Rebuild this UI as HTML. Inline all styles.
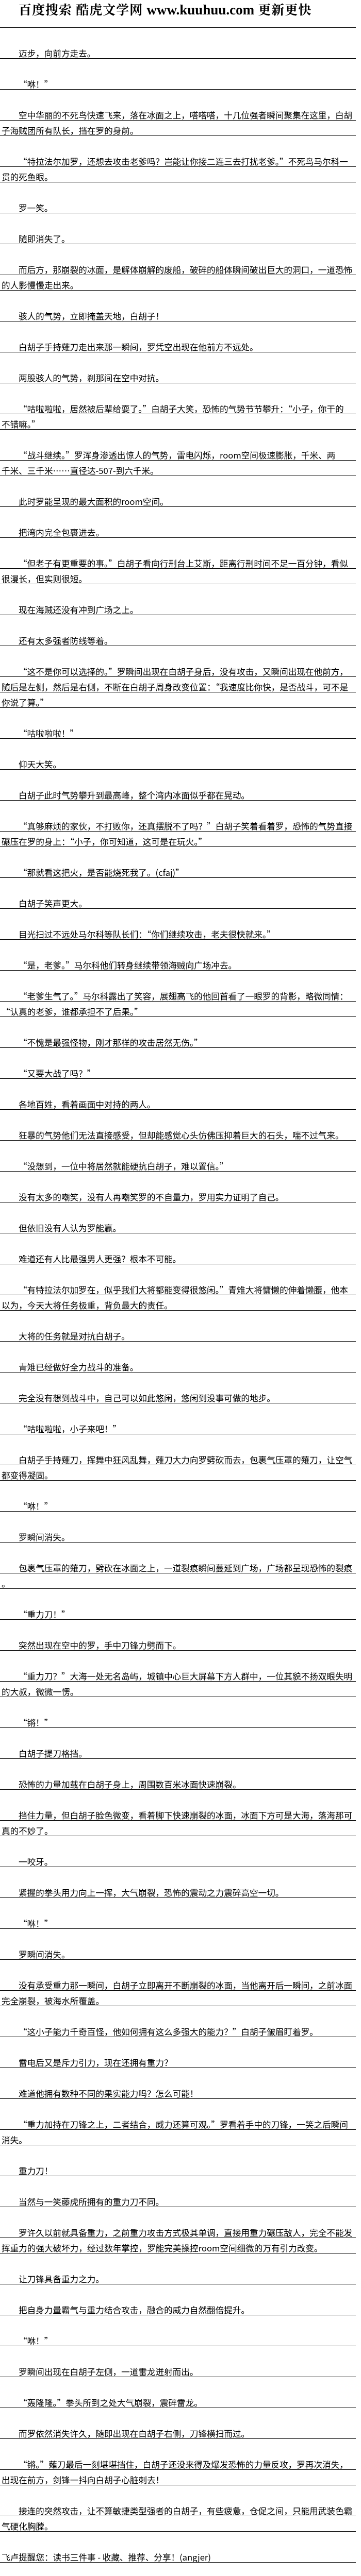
<!DOCTYPE html>
<html style="width:700px;height:5140px;overflow:hidden;"><head><meta charset="utf-8">
<style>
html,body{margin:0;padding:0;background:#fff;}
body{width:700px;height:5140px;position:relative;overflow:hidden;font-family:"Noto Sans CJK SC","WenQuanYi Zen Hei","Liberation Sans",sans-serif;color:#000;}
.logo{position:absolute;left:36px;width:640px;height:30px;overflow:hidden;font-family:"Noto Serif CJK SC","Liberation Serif",serif;font-weight:bold;font-size:25px;line-height:30px;white-space:nowrap;letter-spacing:1px;}
.logo .u{font-family:"Liberation Serif",serif;font-size:27px;letter-spacing:0;line-height:30px;}
#rows{position:absolute;left:0;top:0;width:690px;height:5070px;overflow:hidden;}
#rows div{position:absolute;left:0;width:690px;box-sizing:border-box;border-bottom:1px solid #000;height:60px;margin:0;padding:0;}
#rows div.c{height:30px;}
#rows div span{position:absolute;left:36px;bottom:-1px;font-size:16.6px;line-height:22px;height:22px;overflow:hidden;white-space:nowrap;}
#rows div.c span,#rows div.n span{left:3px;}
#rule0{position:absolute;left:0;top:53px;width:690px;height:1px;background:#000;}
</style></head><body>
<div class="logo" style="top:3px">百度搜索 酷虎文学网 <span class="u">www.kuuhuu.com</span> 更新更快</div>
<div id="rule0"></div>
<div id="rows">
<div><span>迈步，向前方走去。</span></div>
<div><span>“咻！”</span></div>
<div><span>空中华丽的不死鸟快速飞来，落在冰面之上，嗒嗒嗒，十几位强者瞬间聚集在这里，白胡</span></div>
<div class="c"><span>子海贼团所有队长，挡在罗的身前。</span></div>
<div><span>“特拉法尔加罗，还想去攻击老爹吗？岂能让你接二连三去打扰老爹。”不死鸟马尔科一</span></div>
<div class="c"><span>贯的死鱼眼。</span></div>
<div><span>罗一笑。</span></div>
<div><span>随即消失了。</span></div>
<div><span>而后方，那崩裂的冰面，是解体崩解的废船，破碎的船体瞬间破出巨大的洞口，一道恐怖</span></div>
<div class="c"><span>的人影慢慢走出来。</span></div>
<div><span>骇人的气势，立即掩盖天地，白胡子！</span></div>
<div><span>白胡子手持薙刀走出来那一瞬间，罗凭空出现在他前方不远处。</span></div>
<div><span>两股骇人的气势，刹那间在空中对抗。</span></div>
<div><span>“咕啦啦啦，居然被后辈给耍了。”白胡子大笑，恐怖的气势节节攀升：“小子，你干的</span></div>
<div class="c"><span>不错嘛。”</span></div>
<div><span>“战斗继续。”罗浑身渗透出惊人的气势，雷电闪烁，room空间极速膨胀，千米、两</span></div>
<div class="c"><span>千米、三千米……直径达-507-到六千米。</span></div>
<div><span>此时罗能呈现的最大面积的room空间。</span></div>
<div><span>把湾内完全包裹进去。</span></div>
<div><span>“但老子有更重要的事。”白胡子看向行刑台上艾斯，距离行刑时间不足一百分钟，看似</span></div>
<div class="c"><span>很漫长，但实则很短。</span></div>
<div><span>现在海贼还没有冲到广场之上。</span></div>
<div><span>还有太多强者防线等着。</span></div>
<div><span>“这不是你可以选择的。”罗瞬间出现在白胡子身后，没有攻击，又瞬间出现在他前方，</span></div>
<div class="c"><span>随后是左侧，然后是右侧，不断在白胡子周身改变位置：“我速度比你快，是否战斗，可不是</span></div>
<div class="c"><span>你说了算。”</span></div>
<div><span>“咕啦啦啦！”</span></div>
<div><span>仰天大笑。</span></div>
<div><span>白胡子此时气势攀升到最高峰，整个湾内冰面似乎都在晃动。</span></div>
<div><span>“真够麻烦的家伙，不打败你，还真摆脱不了吗？”白胡子笑着看着罗，恐怖的气势直接</span></div>
<div class="c"><span>碾压在罗的身上：“小子，你可知道，这可是在玩火。”</span></div>
<div><span>“那就看这把火，是否能烧死我了。(cfaj)”</span></div>
<div><span>白胡子笑声更大。</span></div>
<div><span>目光扫过不远处马尔科等队长们：“你们继续攻击，老夫很快就来。”</span></div>
<div><span>“是，老爹。”马尔科他们转身继续带领海贼向广场冲去。</span></div>
<div><span>“老爹生气了。”马尔科露出了笑容，展翅高飞的他回首看了一眼罗的背影，略微同情：</span></div>
<div class="c"><span>“认真的老爹，谁都承担不了后果。”</span></div>
<div><span>“不愧是最强怪物，刚才那样的攻击居然无伤。”</span></div>
<div><span>“又要大战了吗？”</span></div>
<div><span>各地百姓，看着画面中对持的两人。</span></div>
<div><span>狂暴的气势他们无法直接感受，但却能感觉心头仿佛压抑着巨大的石头，喘不过气来。</span></div>
<div><span>“没想到，一位中将居然就能硬抗白胡子，难以置信。”</span></div>
<div><span>没有太多的嘲笑，没有人再嘲笑罗的不自量力，罗用实力证明了自己。</span></div>
<div><span>但依旧没有人认为罗能赢。</span></div>
<div><span>难道还有人比最强男人更强？根本不可能。</span></div>
<div><span>“有特拉法尔加罗在，似乎我们大将都能变得很悠闲。”青雉大将慵懒的伸着懒腰，他本</span></div>
<div class="c"><span>以为，今天大将任务极重，背负最大的责任。</span></div>
<div><span>大将的任务就是对抗白胡子。</span></div>
<div><span>青雉已经做好全力战斗的准备。</span></div>
<div><span>完全没有想到战斗中，自己可以如此悠闲，悠闲到没事可做的地步。</span></div>
<div><span>“咕啦啦啦，小子来吧！”</span></div>
<div><span>白胡子手持薙刀，挥舞中狂风乱舞，薙刀大力向罗劈砍而去，包裹气压罩的薙刀，让空气</span></div>
<div class="c"><span>都变得凝固。</span></div>
<div><span>“咻！”</span></div>
<div><span>罗瞬间消失。</span></div>
<div><span>包裹气压罩的薙刀，劈砍在冰面之上，一道裂痕瞬间蔓延到广场，广场都呈现恐怖的裂痕</span></div>
<div class="c"><span>。</span></div>
<div><span>“重力刀！”</span></div>
<div><span>突然出现在空中的罗，手中刀锋力劈而下。</span></div>
<div><span>“重力刀？”大海一处无名岛屿，城镇中心巨大屏幕下方人群中，一位其貌不扬双眼失明</span></div>
<div class="c"><span>的大叔，微微一愣。</span></div>
<div><span>“锵！”</span></div>
<div><span>白胡子提刀格挡。</span></div>
<div><span>恐怖的力量加载在白胡子身上，周围数百米冰面快速崩裂。</span></div>
<div><span>挡住力量，但白胡子脸色微变，看着脚下快速崩裂的冰面，冰面下方可是大海，落海那可</span></div>
<div class="c"><span>真的不妙了。</span></div>
<div><span>一咬牙。</span></div>
<div><span>紧握的拳头用力向上一挥，大气崩裂，恐怖的震动之力震碎高空一切。</span></div>
<div><span>“咻！”</span></div>
<div><span>罗瞬间消失。</span></div>
<div><span>没有承受重力那一瞬间，白胡子立即离开不断崩裂的冰面，当他离开后一瞬间，之前冰面</span></div>
<div class="c"><span>完全崩裂，被海水所覆盖。</span></div>
<div><span>“这小子能力千奇百怪，他如何拥有这么多强大的能力？”白胡子皱眉盯着罗。</span></div>
<div><span>雷电后又是斥力引力，现在还拥有重力？</span></div>
<div><span>难道他拥有数种不同的果实能力吗？怎么可能！</span></div>
<div><span>“重力加持在刀锋之上，二者结合，威力还算可观。”罗看着手中的刀锋，一笑之后瞬间</span></div>
<div class="c"><span>消失。</span></div>
<div><span>重力刀！</span></div>
<div><span>当然与一笑藤虎所拥有的重力刀不同。</span></div>
<div><span>罗许久以前就具备重力，之前重力攻击方式极其单调，直接用重力碾压敌人，完全不能发</span></div>
<div class="c"><span>挥重力的强大破坏力，经过数年掌控，罗能完美操控room空间细微的万有引力改变。</span></div>
<div><span>让刀锋具备重力之力。</span></div>
<div><span>把自身力量霸气与重力结合攻击，融合的威力自然翻倍提升。</span></div>
<div><span>“咻！”</span></div>
<div><span>罗瞬间出现在白胡子左侧，一道雷龙迸射而出。</span></div>
<div><span>“轰隆隆。”拳头所到之处大气崩裂，震碎雷龙。</span></div>
<div><span>而罗依然消失许久，随即出现在白胡子右侧，刀锋横扫而过。</span></div>
<div><span>“锵。”薙刀最后一刻堪堪挡住，白胡子还没来得及爆发恐怖的力量反攻，罗再次消失，</span></div>
<div class="c"><span>出现在前方，剑锋一抖向白胡子心脏刺去！</span></div>
<div><span>接连的突然攻击，让不算敏捷类型强者的白胡子，有些疲惫，仓促之间，只能用武装色霸</span></div>
<div class="c"><span>气硬化胸膛。</span></div>
<div class="n"><span>飞卢提醒您：读书三件事 - 收藏、推荐、分享！(angjer)</span></div>
<div class="n"><span>支持飞卢小说网(http://b.faloo.com)原创作品，尽享阅读的喜悦！1</span></div>
<div class="c"><span>60702125044</span></div>
</div>
<div class="logo" style="top:5102px;font-size:25px;">百度搜索 酷虎文学网 <span class="u">www.kuuhuu.com</span> 更新更快</div>
<script>
(function(){
  var rows=document.querySelectorAll('#rows > div');
  var y=54;
  for(var i=0;i<rows.length;i++){
    var h=rows[i].classList.contains('c')?30:60;
    rows[i].style.top=y+'px';
    rows[i].style.height=h+'px';
    y+=h;
  }
})();
</script>
</body></html>
